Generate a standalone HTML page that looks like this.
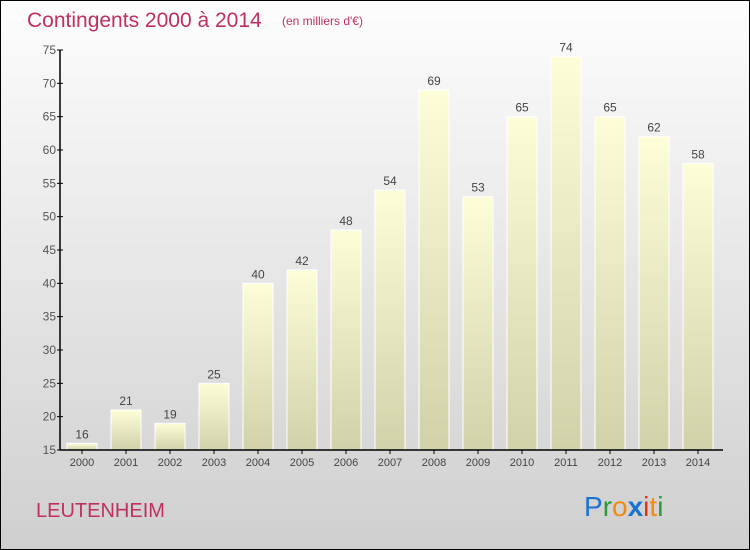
<!DOCTYPE html>
<html><head><meta charset="utf-8"><style>
body{margin:0}
#c{position:relative;width:748px;height:548px;border:1px solid #000;background:linear-gradient(#fdfdfd,#cfcfcf);overflow:hidden;font-family:"Liberation Sans",sans-serif}
</style></head><body>
<div id="c">
<svg id="s" width="748" height="548">
<defs><linearGradient id="bg" x1="0" y1="0" x2="0" y2="1"><stop offset="0" stop-color="#fdfdd8"/><stop offset="1" stop-color="#d1d1aa"/></linearGradient></defs>
<text x="26" y="26" font-size="21" fill="#c0305f">Contingents 2000 à 2014</text>
<text x="281" y="24" font-size="12" fill="#c0305f">(en milliers d'€)</text>
<text x="35" y="516" font-size="20" fill="#c0305f">LEUTENHEIM</text>
<g font-size="28" font-family="'Liberation Sans',sans-serif">
<text x="583" y="515"><tspan fill="#1a73d0">P</tspan><tspan fill="#2a9a3a">r</tspan><tspan fill="#f08a10">o</tspan><tspan fill="#1a73d0" font-weight="bold">x</tspan><tspan fill="#e83010">i</tspan><tspan fill="#f08a10">t</tspan><tspan fill="#2a9a3a">i</tspan></text></g>
<g id="plot"></g>
</svg>
</div>
<script>
const years=["2000","2001","2002","2003","2004","2005","2006","2007","2008","2009","2010","2011","2012","2013","2014"];
const values=[16,21,19,25,40,42,48,54,69,53,65,74,65,62,58];
const yTicks=[15,20,25,30,35,40,45,50,55,60,65,70,75];
const ns="http://www.w3.org/2000/svg";
const g=document.getElementById('plot');
const x0=59,yB=449,yT=49,yMin=15,yMax=75;
const step=44,bw=30;
const y=v=>yB-(v-yMin)*(yB-yT)/(yMax-yMin);
const xc=i=>x0+22+i*step;
function el(t,a){const e=document.createElementNS(ns,t);for(const k in a)e.setAttribute(k,a[k]);g.appendChild(e);return e;}
values.forEach((v,i)=>{
 const r=el('rect',{x:xc(i)-bw/2,y:y(v),width:bw,height:yB-y(v),fill:'url(#bg)',stroke:'#fff','stroke-width':1});
 
 
 const t=el('text',{x:xc(i),y:y(v)-5,'text-anchor':'middle','font-size':12,fill:'#444'});
 t.textContent=v;
 
 
 const tk=el('line',{x1:xc(i),x2:xc(i),y1:yB,y2:yB+4,stroke:'#000'});
 
 
 const l=el('text',{x:xc(i),y:yB+16,'text-anchor':'middle','font-size':11,fill:'#444'});
 l.textContent=years[i];
 
 
});
yTicks.forEach(v=>{
 const tk=el('line',{x1:x0-3,x2:x0+3,y1:y(v),y2:y(v),stroke:'#000'});
 
 
 const l=el('text',{x:x0-4,y:y(v)+4,'text-anchor':'end','font-size':12,fill:'#555'});
 l.textContent=v;
 
 
});
const ya=el('line',{x1:x0,x2:x0,y1:yT,y2:yB,stroke:'#000','stroke-width':1.5});


const xa=el('line',{x1:x0,x2:722,y1:yB,y2:yB,stroke:'#000','stroke-width':1.5});


</script>
</body></html>
